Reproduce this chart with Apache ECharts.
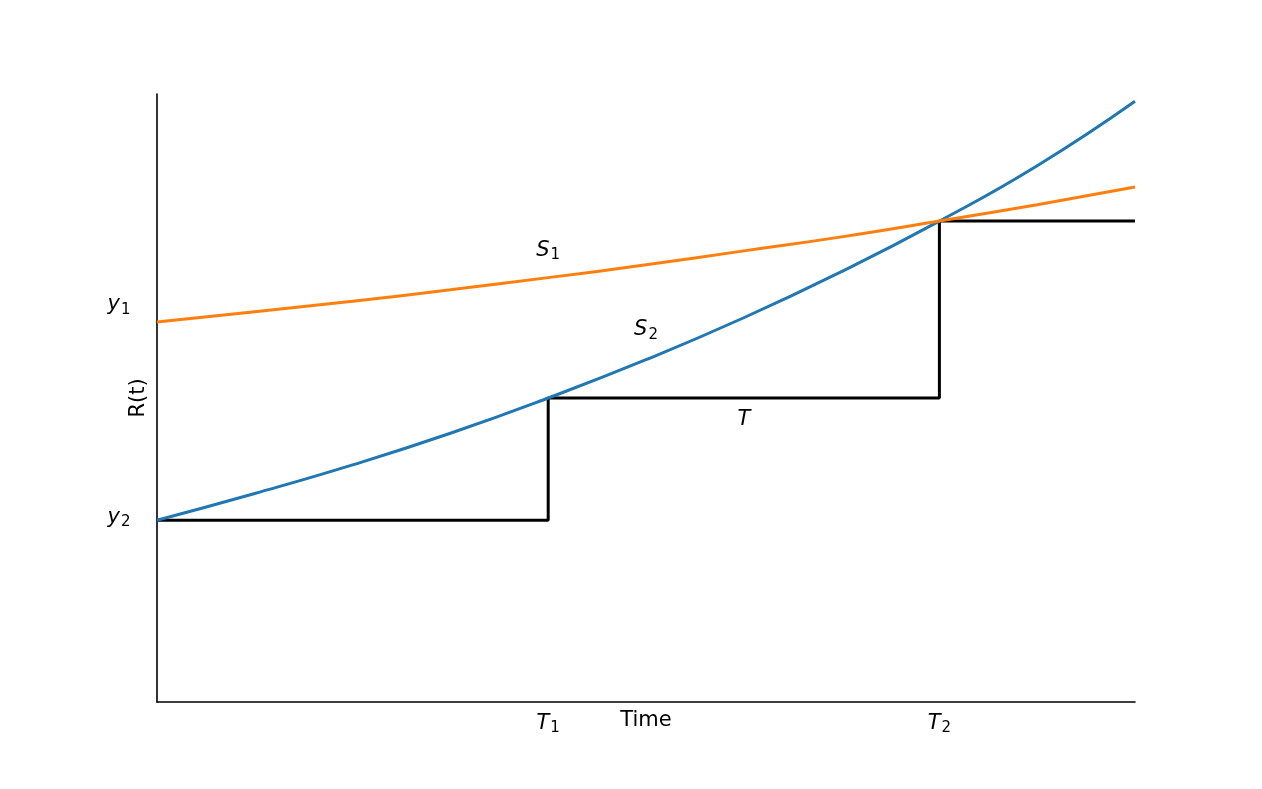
<!DOCTYPE html>
<html>
<head>
<meta charset="utf-8">
<script src="https://cdn.jsdelivr.net/npm/echarts@6/dist/echarts.min.js"></script>
<style>
html,body{margin:0;padding:0;background:#fff;}
#chart{width:1262px;height:789px;}
</style>
</head>
<body>
<div id="chart"></div>
<script>
// Time samples
var times = [0, 0.25, 0.5, 0.75, 1.0, 1.25, 1.5, 1.75, 2.0, 2.25, 2.5];
// S1 (orange) values
var s1Values = [6.25, 6.42, 6.59, 6.78, 6.98, 7.19, 7.42, 7.65, 7.91, 8.18, 8.47];
// S2 (blue) values
var s2Values = [2.99, 3.43, 3.90, 4.42, 5.00, 5.63, 6.32, 7.08, 7.91, 8.82, 9.88];
// Step function T
var stepTimes = [0, 1, 2, 2.5];
var stepValues = [2.99, 5.00, 7.91, 7.91];
// x tick labels
var xTickValues = [1, 2];
var xTickSubs = ['1', '2'];
var xAxisTitle = 'Time';
var yAxisTitle = 'R(t)';
// y labels
var yLabelValues = [6.53, 3.04];
var yLabelSubs = ['1', '2'];
// annotations
var annX = [1.0, 1.25, 1.5];
var annY = [7.43, 6.12, 4.64];
var annBase = ['S', 'S', 'T'];
var annSub = ['1', '2', ''];

var FONT = 'DejaVu Sans';
var FS = 21;
var rich = {
  i: {fontFamily: FONT, fontStyle: 'italic', fontSize: FS, color: '#000'},
  s: {fontFamily: FONT, fontSize: 15, color: '#000', padding: [10, 0, 0, 1]}
};

function zip(xs, ys) { return xs.map(function (x, k) { return [x, ys[k]]; }); }
function mathText(base, sub) { return '{i|' + base + '}' + (sub ? '{s|' + sub + '}' : ''); }

var chart = echarts.init(document.getElementById('chart'), null, {renderer: 'canvas'});
var option = {
  backgroundColor: '#fff',
  animation: false,
  grid: {left: 157, right: 127, top: 94, bottom: 87, containLabel: false},
  xAxis: {
    type: 'value', min: 0, max: 2.5, interval: 1,
    axisLine: {show: true, onZero: false, lineStyle: {color: '#000', width: 1.6}},
    axisTick: {show: false},
    splitLine: {show: false},
    axisLabel: {
      margin: 9,
      formatter: function (v) {
        var k = xTickValues.indexOf(v);
        return k >= 0 ? mathText('T', xTickSubs[k]) : '';
      },
      rich: rich
    }
  },
  yAxis: {
    type: 'value', min: 0, max: 10,
    name: yAxisTitle, nameLocation: 'middle', nameGap: 8, nameRotate: 90,
    nameTextStyle: {fontFamily: FONT, fontSize: FS, color: '#000'},
    axisLine: {show: true, onZero: false, lineStyle: {color: '#000', width: 1.6}},
    axisTick: {show: false},
    axisLabel: {show: false},
    splitLine: {show: false}
  },
  series: [
    {
      name: 'T', type: 'line', step: 'end', data: zip(stepTimes, stepValues),
      showSymbol: false, symbol: 'none', lineStyle: {color: '#000', width: 3}, z: 2
    },
    {
      name: 'S2', type: 'line', smooth: true, data: zip(times, s2Values),
      showSymbol: false, symbol: 'none', lineStyle: {color: '#1f77b4', width: 3}, z: 3
    },
    {
      name: 'S1', type: 'line', smooth: true, data: zip(times, s1Values),
      showSymbol: false, symbol: 'none', lineStyle: {color: '#ff7f0e', width: 3}, z: 4
    }
  ]
};
chart.setOption(option);

var graphics = [];
annX.forEach(function (x, k) {
  var p = chart.convertToPixel({gridIndex: 0}, [x, annY[k]]);
  graphics.push({
    type: 'text', x: p[0], y: p[1],
    style: {text: mathText(annBase[k], annSub[k]), rich: rich, align: 'center', verticalAlign: 'middle'}
  });
});
yLabelValues.forEach(function (v, k) {
  var p = chart.convertToPixel({gridIndex: 0}, [0, v]);
  graphics.push({
    type: 'text', x: p[0] - 38, y: p[1],
    style: {text: mathText('y', yLabelSubs[k]), rich: rich, align: 'center', verticalAlign: 'middle'}
  });
});
// x-axis title, on the same row as the tick labels (as in the reference)
var pMid = chart.convertToPixel({gridIndex: 0}, [1.25, 0]);
graphics.push({
  type: 'text', x: pMid[0], y: pMid[1] + 19,
  style: {text: xAxisTitle, fontFamily: FONT, fontSize: FS, fill: '#000', align: 'center', verticalAlign: 'middle'}
});
chart.setOption({graphic: graphics});
</script>
</body>
</html>
